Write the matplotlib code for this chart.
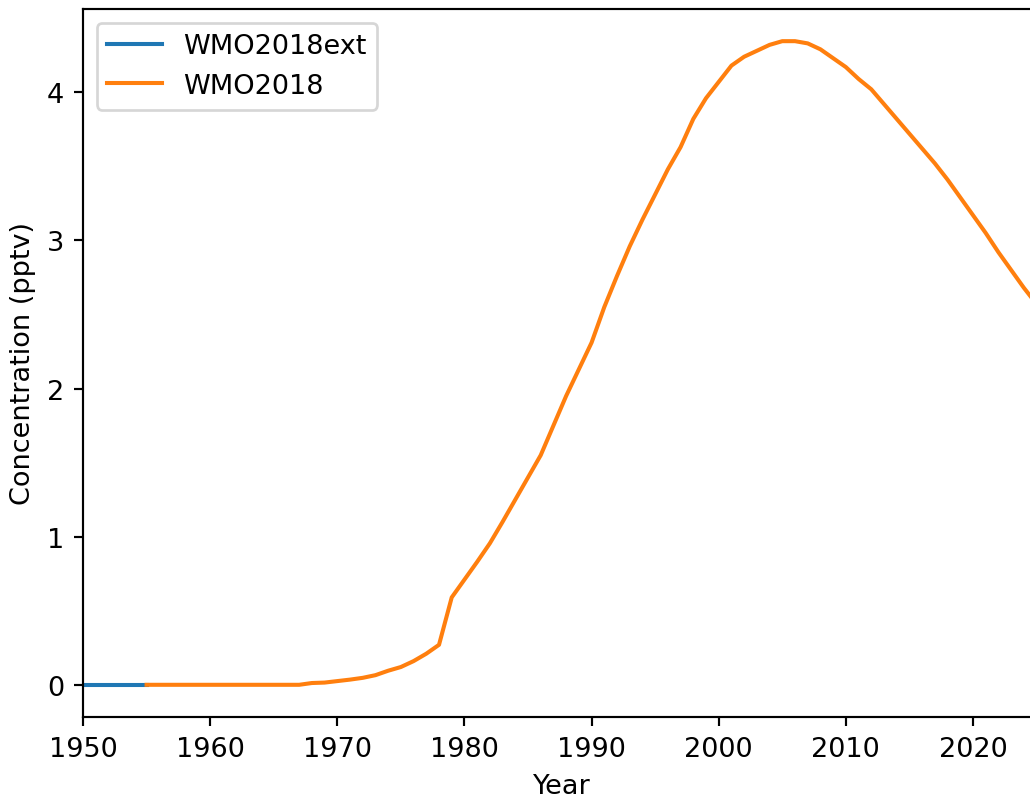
import numpy as np
import matplotlib
matplotlib.use("Agg")
import matplotlib.pyplot as plt

# WMO2018 extension (pre-1955) and WMO2018 series
ext_years = [1950, 1951, 1952, 1953, 1954, 1955]
ext_conc = [0.0, 0.0, 0.0, 0.0, 0.0, 0.0]

wmo_years = list(range(1955, 2026))
wmo_conc = [
    0.0, 0.0, 0.0, 0.0, 0.0, 0.0, 0.0, 0.0, 0.0, 0.0,      # 1955-1964
    0.0, 0.0, 0.0, 0.012, 0.015, 0.025, 0.035, 0.047, 0.065, 0.095,  # 1965-1974
    0.12, 0.16, 0.21, 0.27, 0.59, 0.71, 0.83, 0.955, 1.1, 1.25,      # 1975-1984
    1.4, 1.55, 1.75, 1.95, 2.13, 2.31, 2.55, 2.76, 2.96, 3.14,       # 1985-1994
    3.31, 3.48, 3.63, 3.82, 3.96, 4.07, 4.18, 4.24, 4.28, 4.32,      # 1995-2004
    4.345, 4.345, 4.33, 4.29, 4.23, 4.17, 4.09, 4.02, 3.92, 3.82,    # 2005-2014
    3.72, 3.62, 3.52, 3.41, 3.29, 3.17, 3.05, 2.92, 2.8, 2.68,       # 2015-2024
    2.57,                                                            # 2025
]

dpi = 195
fig = plt.figure(figsize=(1030 / dpi, 799 / dpi), dpi=dpi)
ax = fig.add_axes([0.0806, 0.1014, 0.93, 0.8861])

ax.plot(ext_years, ext_conc, label="WMO2018ext")
ax.plot(wmo_years, wmo_conc, label="WMO2018")

ax.set_xlim(1950, 1950 + 0.93 * 1030 / 12.714)
ax.set_xticks([1950, 1960, 1970, 1980, 1990, 2000, 2010, 2020])
ax.set_yticks([0, 1, 2, 3, 4])
ax.set_xlabel("Year")
ax.set_ylabel("Concentration (pptv)")
ax.legend(loc="upper left")

fig.savefig("out.png", dpi=dpi)
